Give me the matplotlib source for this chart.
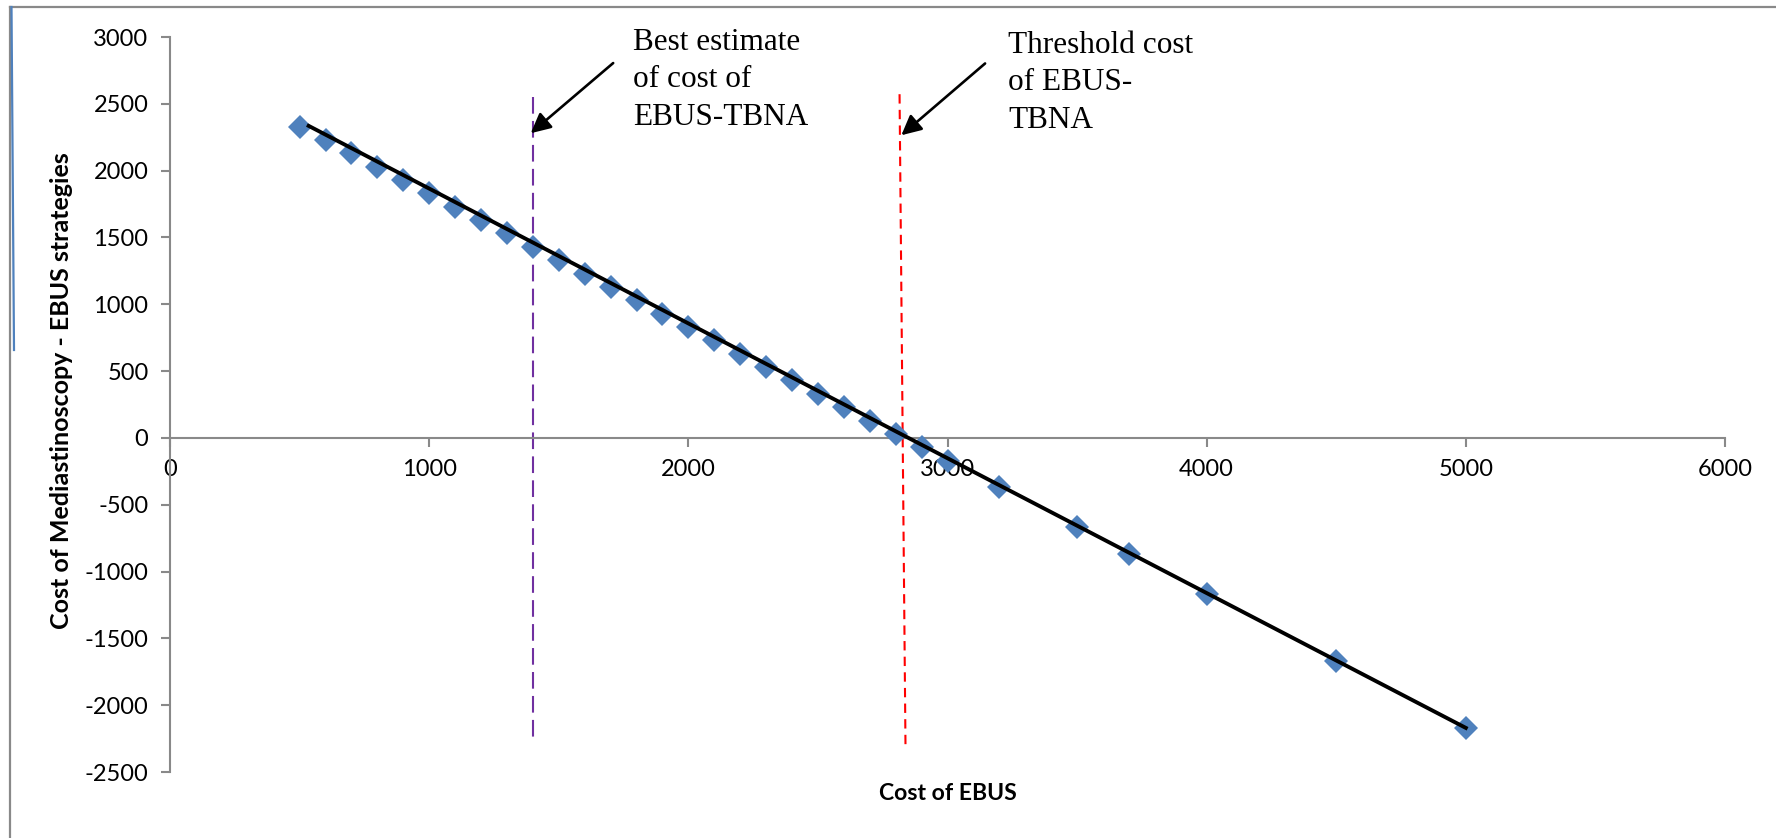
import matplotlib
matplotlib.use("Agg")
import matplotlib.pyplot as plt
from matplotlib.lines import Line2D

plt.rcParams["font.family"] = ["Lato", "DejaVu Sans"]
plt.rcParams["axes.unicode_minus"] = False

# --- Data: cost of EBUS vs. cost difference (mediastinoscopy - EBUS) ---
ebus_cost = [500, 600, 700, 800, 900, 1000, 1100, 1200, 1300, 1400,
             1500, 1600, 1700, 1800, 1900, 2000, 2100, 2200, 2300, 2400,
             2500, 2600, 2700, 2800, 2900, 3000, 3200, 3500, 3700, 4000,
             4500, 5000]
cost_difference = [2330, 2230, 2130, 2030, 1930, 1830, 1730, 1630, 1530, 1430,
                   1330, 1230, 1130, 1030, 930, 830, 730, 630, 530, 430,
                   330, 230, 130, 30, -70, -170, -370, -670, -870, -1170,
                   -1670, -2170]

# fitted line through the points
trend_x = [535, 5000]
trend_y = [2335, -2170]

# reference lines: best estimate and threshold cost of EBUS-TBNA
best_x = [1400, 1400]
best_y = [2550, -2235]
threshold_x = [2815, 2838]
threshold_y = [2572, -2320]

x_ticks = [0, 1000, 2000, 3000, 4000, 5000, 6000]
y_ticks = [-2500, -2000, -1500, -1000, -500, 0, 500, 1000, 1500, 2000, 2500, 3000]

W, H = 1776, 838
fig = plt.figure(figsize=(W / 100, H / 100), dpi=100)
ax = fig.add_axes([170 / W, 1 - 772 / H, 1555 / W, 735 / H])

GRAY = "#898989"

ax.plot(ebus_cost, cost_difference, linestyle="none", marker="D",
        markersize=12, color="#4F81BD", markeredgewidth=0, zorder=3)
ax.plot(trend_x, trend_y, color="black", linewidth=2.8, zorder=4)

ax.plot(best_x, best_y, color="#7030A0", linewidth=1.5,
        dashes=(8, 3.5), zorder=2)
ax.plot(threshold_x, threshold_y, color="#FF0000", linewidth=1.5,
        dashes=(4.5, 3), zorder=2)

ax.set_xlim(0, 6000)
ax.set_ylim(-2500, 3000)
ax.set_xticks(x_ticks)
ax.set_yticks(y_ticks)

# axes cross at the origin, Excel style
ax.spines["top"].set_visible(False)
ax.spines["right"].set_visible(False)
ax.spines["bottom"].set_position(("data", 0))
for side in ("left", "bottom"):
    ax.spines[side].set_color(GRAY)
    ax.spines[side].set_linewidth(1.5)
ax.tick_params(axis="both", direction="out", length=6.5, width=1.5,
               color=GRAY, labelsize=17, labelcolor="black")
ax.tick_params(axis="y", pad=9)
ax.tick_params(axis="x", pad=9)

fig.text(948 / W, 1 - 793 / H, "Cost of EBUS", fontsize=16.6,
         fontweight="bold", ha="center", va="center")
fig.text(62 / W, 1 - 391 / H, "Cost of Mediastinoscopy - EBUS strategies",
         fontsize=18, fontweight="bold", rotation=90,
         ha="center", va="center")

# annotations
arrow = dict(arrowstyle="-|>", color="black", lw=1.9, mutation_scale=30,
             shrinkA=0, shrinkB=0)
ax.annotate("", xy=(1392, 2280), xytext=(1710, 2805), arrowprops=arrow)
ax.annotate("", xy=(2822, 2265), xytext=(3145, 2802), arrowprops=arrow)

serif = ["Liberation Serif", "DejaVu Serif"]
fig.text(633 / W, 1 - 28 / H, "Best estimate\nof cost of\nEBUS-TBNA",
         family=serif, fontsize=22.5, ha="left", va="top", linespacing=1.38)
fig.text(1008 / W, 1 - 31 / H, "Threshold cost\nof EBUS-\nTBNA",
         family=serif, fontsize=22.5, ha="left", va="top", linespacing=1.38)

# chart frame
fig.add_artist(Line2D([10 / W, 1], [1 - 7 / H, 1 - 7 / H],
                      transform=fig.transFigure, color=GRAY, linewidth=1.6))
fig.add_artist(Line2D([10 / W, 10 / W], [0, 1 - 7 / H],
                      transform=fig.transFigure, color=GRAY, linewidth=1.6))
fig.add_artist(Line2D([11.5 / W, 14 / W], [1 - 7 / H, 1 - 350 / H],
                      transform=fig.transFigure, color="#4F81BD", linewidth=1.6))

fig.savefig("out.png", dpi=100)
